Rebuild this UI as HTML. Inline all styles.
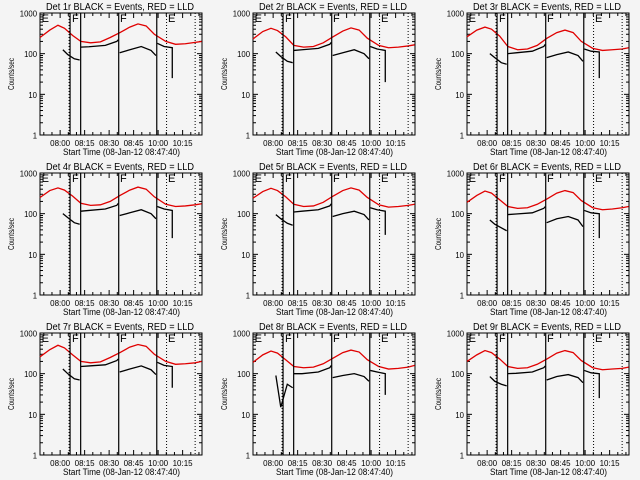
<!DOCTYPE html>
<html><head><meta charset="utf-8"><style>
html,body{margin:0;padding:0;background:#f4f4f4;}
svg{display:block;font-family:"Liberation Sans",sans-serif;}
</style></head><body>
<svg id="c" width="640" height="480"></svg>
<script>
const panelNames = ["1r","2r","3r","4r","5r","6r","7r","8r","9r"];
const redTimes = [0,6,11,15,20,25,31,37,43,49,55,60,65,70,77,83,89,95,99];
const blackTimes = [14,17,21,24.3, 25,30,40,47,48, 48.8,55,62,68,71, 71.8,76,81,81];
const blackSegments = [0,0,0,0,1,1,1,1,1,2,2,2,2,2,3,3,3,3];
const red1 = [250,380,500,420,280,200,185,195,250,330,450,540,480,300,200,170,175,190,200];
const red2 = [230,350,420,370,260,160,145,150,185,260,360,430,380,240,160,140,145,155,165];
const red3 = [260,380,450,400,270,150,125,130,160,240,330,380,330,200,135,120,125,130,140];
const red4 = [250,370,430,380,270,180,160,165,200,280,380,450,400,260,170,150,155,165,175];
const red5 = [240,350,420,370,260,170,150,155,190,270,370,430,380,250,165,145,150,160,170];
const red6 = [190,280,360,320,220,150,135,140,170,230,320,370,330,210,140,125,130,140,150];
const red7 = [260,390,500,430,290,200,185,195,250,330,450,520,470,300,200,170,175,185,200];
const red8 = [190,290,360,320,220,150,140,145,175,240,330,380,340,220,150,130,135,145,160];
const red9 = [200,290,370,330,230,150,135,140,170,230,320,370,330,210,140,125,130,135,145];
const black1 = [125,95,75,70,145,148,160,200,220,105,125,150,120,90,180,150,140,25];
const black2 = [110,85,65,60,120,125,135,170,190,90,105,125,100,75,150,130,120,20];
const black3 = [100,80,60,55,100,105,115,150,170,80,95,110,90,65,130,115,110,25];
const black4 = [100,80,60,55,115,120,130,160,180,90,105,125,100,75,150,130,120,25];
const black5 = [95,75,58,52,110,115,125,155,175,85,100,115,95,70,140,125,115,30];
const black6 = [70,55,45,38,95,98,105,135,150,60,75,85,70,48,120,105,100,25];
const black7 = [130,100,75,70,150,155,165,210,230,110,130,155,125,95,190,160,150,45];
const black8 = [90,15,55,45,100,100,110,140,160,80,90,100,85,65,120,110,100,30];
const black9 = [85,65,55,50,100,102,110,140,155,70,85,95,80,60,120,105,100,25];
const reds = [red1,red2,red3,red4,red5,red6,red7,red8,red9];
const blacks = [black1,black2,black3,black4,black5,black6,black7,black8,black9];
const solidLines = [18.4, 24.9, 48.2, 71.5];
const dottedLines = [17.8, 77.5, 95];
const markerTimes = [1, 19.6, 49, 78.4];
const markerLabels = ["E","F","F","E"];
const xTickMin = [12.33, 27.33, 42.33, 57.33, 72.33, 87.33];
const xTickLabels = ["08:00","08:15","08:30","08:45","10:00","10:15"];
const yTickVals = [1,10,100,1000];
const yTickLabels = ["1","10","100","1000"];

const svg = document.getElementById('c');
const NS = "http://www.w3.org/2000/svg";
function mk(tag, attrs, parent){const e=document.createElementNS(NS,tag);for(const k in attrs)e.setAttribute(k,attrs[k]);(parent||svg).appendChild(e);return e;}
const PL=40, PR=202, PT=13, PB=135, TMAX=99.2;
for(let p=0;p<9;p++){
  const ox=Math.round((p%3)*213.33), oy=Math.floor(p/3)*160;
  const g=mk('g',{transform:`translate(${ox},${oy})`});
  
  
  const xs=t=>PL+(PR-PL)*t/TMAX;
  const ys=v=>PB-(PB-PT)*Math.log10(v)/3;
  const title=mk('text',{x:46,y:10,'font-size':'10',textLength:148,lengthAdjust:'spacingAndGlyphs'},g);
  title.textContent='Det '+panelNames[p]+' BLACK = Events, RED = LLD';
  
  
  const frame=mk('rect',{x:PL,y:PT,width:PR-PL,height:PB-PT,fill:'none',stroke:'#000','stroke-width':1},g);
  
  
  for(let d=0;d<3;d++){for(let m=1;m<10;m++){const y=ys(Math.pow(10,d)*m);const L=m===1?5:3;
    mk('line',{x1:PL,x2:PL+L,y1:y,y2:y,stroke:'#000'},g);mk('line',{x1:PR,x2:PR-L,y1:y,y2:y,stroke:'#000'},g);}}
  yTickVals.forEach((v,i)=>{const lab=yTickLabels[i];const t=mk('text',{x:PL-20,y:ys(v)+3.5,'font-size':'8.5',textLength:lab.length*4.3,lengthAdjust:'spacingAndGlyphs'},g);
    t.setAttribute('x',PL-3-lab.length*4.3);
    t.textContent=lab;
    
    });
  const yl=mk('text',{x:0,y:0,'text-anchor':'middle','font-size':'8',textLength:32,lengthAdjust:'spacingAndGlyphs',transform:`translate(14,${(PT+PB)/2}) rotate(-90)`},g);
  yl.textContent='Counts/sec';
  
  
  for(let t=2.33;t<TMAX;t+=5){const x=xs(t);const major=xTickMin.some(v=>Math.abs(v-t)<0.1);const L=major?5:3;
    mk('line',{x1:x,x2:x,y1:PB,y2:PB-L,stroke:'#000'},g);mk('line',{x1:x,x2:x,y1:PT,y2:PT+L,stroke:'#000'},g);}
  xTickMin.forEach((t,i)=>{const tx=mk('text',{x:xs(t)-10,y:PB+11,'font-size':'8.5',textLength:20,lengthAdjust:'spacingAndGlyphs'},g);tx.textContent=xTickLabels[i];
    
    });
  const xl=mk('text',{x:63,y:PB+20,'font-size':'9',textLength:117,lengthAdjust:'spacingAndGlyphs'},g);
  xl.textContent='Start Time (08-Jan-12 08:47:40)';
  
  
  const rp=mk('polyline',{points:redTimes.map((t,i)=>xs(t)+','+ys(reds[p][i])).join(' '),fill:'none',stroke:'#e00000','stroke-width':1.3},g);
  
  
  for(let s=0;s<4;s++){const pts=[];blackTimes.forEach((t,i)=>{if(blackSegments[i]===s)pts.push(xs(t)+','+ys(blacks[p][i]));});
    const bp=mk('polyline',{points:pts.join(' '),fill:'none',stroke:'#000','stroke-width':1.3},g);
    
    }
  solidLines.forEach(t=>{const l=mk('line',{x1:xs(t),x2:xs(t),y1:PT,y2:PB,stroke:'#000','stroke-width':1.2},g);
    
    });
  dottedLines.forEach(t=>{const l=mk('line',{x1:xs(t),x2:xs(t),y1:PT,y2:PB,stroke:'#000','stroke-dasharray':'1,2'},g);
    
    });
  markerTimes.forEach((t,i)=>{const m=mk('text',{x:xs(t),y:PT+9,'font-size':'11'},g);m.textContent=markerLabels[i];
    
    });
}
</script>
</body></html>
